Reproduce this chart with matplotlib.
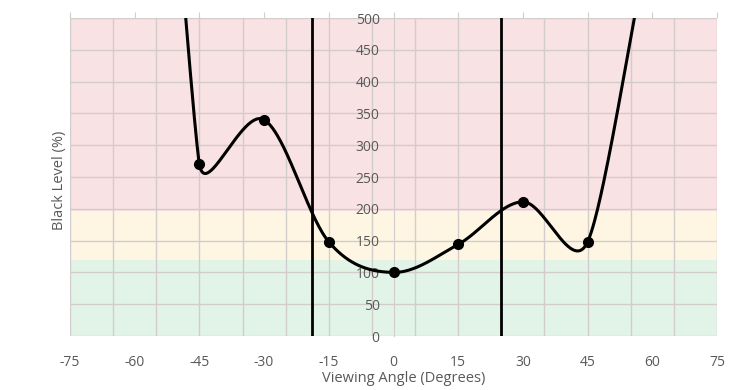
import numpy as np
import matplotlib
matplotlib.use('Agg')
import matplotlib.pyplot as plt

# viewing angle measurements (points beyond +-45 fall off the top of the chart)
angles = [-60, -45, -30, -15, 0, 15, 30, 45, 60]
black_level = [1500, 270, 340, 148, 100, 144, 211, 148, 650]

# reference lines and colour bands
ref_lines = [-19, 25]
band_edges = [0, 120, 197, 500]
band_colors = ['#e2f4e8', '#fef6e3', '#f9e2e3']

x_ticks = np.arange(-75, 76, 15)
y_ticks = np.arange(0, 501, 50)
grid_x = np.arange(-75, 76, 10)

txt = '#595959'
plt.rcParams['font.family'] = ['Open Sans', 'DejaVu Sans']
plt.rcParams['axes.unicode_minus'] = False

fig = plt.figure(figsize=(7.44, 3.9), dpi=100)
ax = fig.add_axes([70 / 744, 1 - 336 / 390, 647 / 744, 318 / 390])
ax.set_xlim(-75, 75)
ax.set_ylim(0, 500)


def smooth_curve(xs, ys, n=60):
    '''Excel-style smoothed line: bezier segments built in screen space'''
    p = ax.transData.transform(np.column_stack([xs, ys]))
    m = len(p)
    fwd = np.zeros_like(p)
    back = np.zeros_like(p)
    for i in range(m):
        if i == 0:
            fwd[i] = p[0] + (p[1] - p[0]) / 3
            continue
        if i == m - 1:
            back[i] = p[i] - (p[i] - p[i - 1]) / 3
            continue
        t = p[i + 1] - p[i - 1]
        d02 = np.hypot(*t)
        d01 = np.hypot(*(p[i] - p[i - 1]))
        d12 = np.hypot(*(p[i + 1] - p[i]))
        L = min(d02 / 6, d01 / 2, d12 / 2)
        u = t / d02
        fwd[i] = p[i] + L * u
        back[i] = p[i] - L * u
    s = np.linspace(0, 1, n)[:, None]
    out = []
    for i in range(m - 1):
        seg = ((1 - s) ** 3 * p[i] + 3 * (1 - s) ** 2 * s * fwd[i]
               + 3 * (1 - s) * s ** 2 * back[i + 1] + s ** 3 * p[i + 1])
        out.append(seg)
    out = np.vstack(out)
    return ax.transData.inverted().transform(out)


for lo, hi, c in zip(band_edges[:-1], band_edges[1:], band_colors):
    ax.axhspan(lo, hi, color=c, zorder=0, lw=0)

for gx in grid_x:
    ax.axvline(gx, color='#d2cccc', lw=1, zorder=1)
for gy in y_ticks:
    ax.axhline(gy, color='#d2cccc', lw=1, zorder=1)

curve = smooth_curve(angles, black_level)
ax.plot(curve[:, 0], curve[:, 1], color='black', lw=2.2, zorder=3)
ax.plot(angles, black_level, 'o', color='black', ms=7, zorder=4)

for rx in ref_lines:
    ax.axvline(rx, color='black', lw=2, zorder=3)

for s in ['top', 'right', 'bottom']:
    ax.spines[s].set_visible(False)
ax.spines['left'].set_position(('data', 0))
ax.spines['left'].set_color('#d2cccc')
ax.spines['left'].set_zorder(1)

ax.set_xticks(x_ticks)
ax.set_yticks(y_ticks)
ax.tick_params(axis='x', bottom=False, top=True, labelbottom=True, labeltop=False,
               length=4, color='#d2cccc', labelcolor=txt, labelsize=10, pad=10)
ax.tick_params(axis='y', length=0, labelcolor=txt, labelsize=10, pad=10)
for lab in ax.get_yticklabels():
    lab.set_zorder(5)

ax.set_xlabel('Viewing Angle (Degrees)', color=txt, fontsize=10.5)
ax.set_ylabel('Black Level (%)', color=txt, fontsize=10.5)
ax.yaxis.set_label_coords(-0.004, 0.49)
ax.xaxis.set_label_coords(0.515, -0.11)

fig.savefig('out.png', dpi=100)
